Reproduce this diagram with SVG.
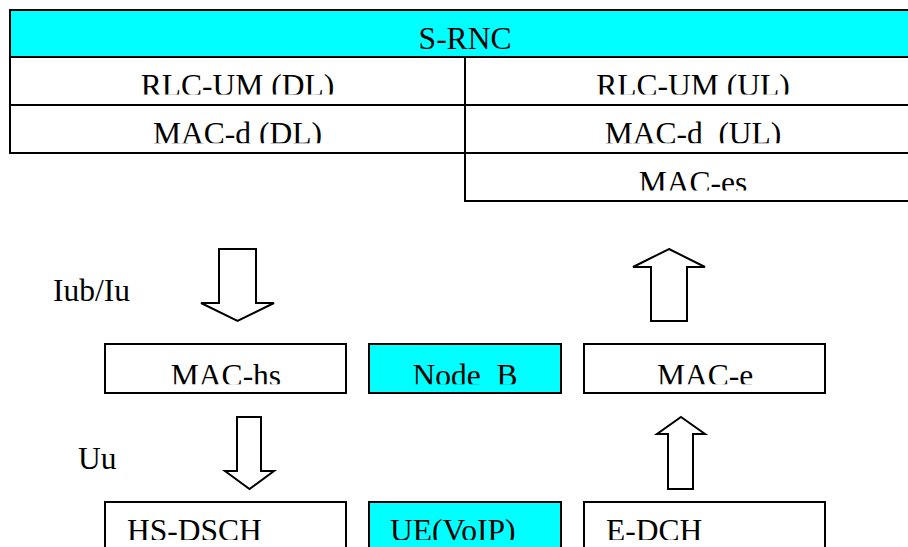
<svg xmlns="http://www.w3.org/2000/svg" width="908" height="547" viewBox="0 0 908 547">
<style>
.t{font-family:"Liberation Serif","Times New Roman",serif;font-size:31.5px;fill:#000}
.c{text-anchor:middle}
.box{fill:#fff;stroke:#000;stroke-width:2}
.cy{fill:#00ffff;stroke:#000;stroke-width:2}
.ar{fill:#fff;stroke:#000;stroke-width:2;stroke-linejoin:miter}
</style>
<defs>
<clipPath id="cR2" clipPathUnits="userSpaceOnUse"><rect x="0" y="57" width="908" height="37.5"/></clipPath>
<clipPath id="cR3" clipPathUnits="userSpaceOnUse"><rect x="0" y="105" width="908" height="38.3"/></clipPath>
<clipPath id="cR4" clipPathUnits="userSpaceOnUse"><rect x="0" y="153" width="908" height="37.5"/></clipPath>
<clipPath id="cMid" clipPathUnits="userSpaceOnUse"><rect x="0" y="344" width="908" height="40.3"/></clipPath>
<clipPath id="cBot" clipPathUnits="userSpaceOnUse"><rect x="0" y="502" width="908" height="38"/></clipPath>
</defs>

<g id="s-rnc">
<rect class="cy" x="10" y="10" width="920" height="47"/>
<text class="t c" x="465" y="48.5">S-RNC</text>
</g>
<g id="rlc-um-dl">
<rect class="box" x="10" y="57" width="455" height="48"/>
<text class="t c" x="237.5" y="95.5" clip-path="url(#cR2)">RLC-UM (DL)</text>
</g>
<g id="rlc-um-ul">
<rect class="box" x="465" y="57" width="465" height="48"/>
<text class="t c" x="693" y="95.5" clip-path="url(#cR2)">RLC-UM (UL)</text>
</g>
<g id="mac-d-dl">
<rect class="box" x="10" y="105" width="455" height="48"/>
<text class="t c" x="237.5" y="144" clip-path="url(#cR3)">MAC-d (DL)</text>
</g>
<g id="mac-d-ul">
<rect class="box" x="465" y="105" width="465" height="48"/>
<text class="t c" x="693" y="144" clip-path="url(#cR3)" xml:space="preserve">MAC-d  (UL)</text>
</g>
<g id="mac-es">
<rect class="box" x="465" y="153" width="465" height="48"/>
<text class="t c" x="693" y="193" clip-path="url(#cR4)">MAC-es</text>
</g>

<g id="mac-hs">
<rect class="box" x="105" y="344" width="241" height="49"/>
<text class="t c" x="226" y="385.5" clip-path="url(#cMid)">MAC-hs</text>
</g>
<g id="node-b">
<rect class="cy" x="369" y="344" width="192" height="49"/>
<text class="t c" x="465" y="385.5" clip-path="url(#cMid)" xml:space="preserve">Node  B</text>
</g>
<g id="mac-e">
<rect class="box" x="584" y="344" width="241" height="49"/>
<text class="t c" x="705" y="385.5" clip-path="url(#cMid)">MAC-e</text>
</g>

<g id="hs-dsch">
<rect class="box" x="105" y="502" width="241" height="60"/>
<text class="t" x="127" y="540.5" clip-path="url(#cBot)">HS-DSCH</text>
</g>
<g id="ue-voip">
<rect class="cy" x="369" y="502" width="192" height="60"/>
<text class="t" x="390" y="540.5" clip-path="url(#cBot)">UE(VoIP)</text>
</g>
<g id="e-dch">
<rect class="box" x="584" y="502" width="241" height="60"/>
<text class="t" x="606" y="540.5" clip-path="url(#cBot)">E-DCH</text>
</g>

<g id="label-iub">
<text class="t" x="53" y="300.5">Iub/Iu</text>
</g>
<g id="label-uu">
<text class="t" x="78" y="468.5">Uu</text>
</g>

<g id="connectors">
<polygon class="ar" points="219,249 256,249 256,303 274,303 237.5,321 201,303 219,303"/>
<polygon class="ar" points="237,417 261,417 261,471 274,471 249.5,489 225,471 237,471"/>
<polygon class="ar" points="669,249 705,267 687,267 687,321 651,321 651,267 633,267"/>
<polygon class="ar" points="681,417 705,434 693,434 693,489 668,489 668,434 657,434"/>
</g>
</svg>
